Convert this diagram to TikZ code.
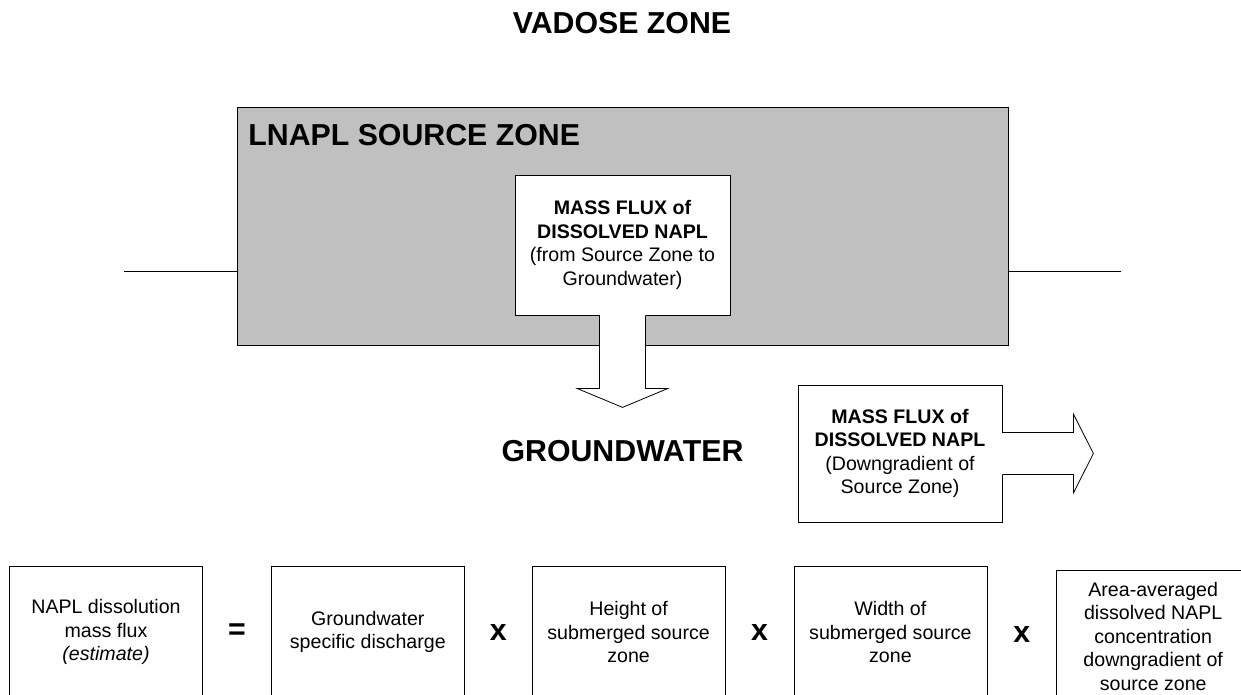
\documentclass[tikz,border=0pt]{standalone}
\usepackage{fontspec}
\setmainfont{Liberation Sans}
\usepackage{tikz}
\usetikzlibrary{positioning,calc}

\definecolor{zonegray}{HTML}{C0C0C0}

\tikzset{
  zonelabel/.style={font=\fontsize{30.3}{35}\selectfont\bfseries, inner sep=0pt},
  fluxbox/.style={draw, fill=white, align=center, inner sep=0pt, font=\fontsize{19.6}{23.5}\selectfont},
  factor/.style={fluxbox, minimum width=193pt, minimum height=132pt}
}

\begin{document}
\begin{tikzpicture}[x=1pt,y=-1pt,line width=0.8pt]

    \useasboundingbox (0,0) rectangle (1241,694);

    \node[zonelabel] (vadose) at (622,23) {VADOSE ZONE};

    \node[draw, fill=zonegray, inner sep=0pt, minimum width=771pt, minimum height=238pt] (source) at (622.5,226) {};
    \node[zonelabel, anchor=west] (lnapl) at (248,135) {LNAPL SOURCE ZONE};

    \coordinate (wtleft) at (124,271);
    \coordinate (wtright) at (1121,271);
    \draw (wtleft) -- (wtleft -| source.west);
    \draw (wtright -| source.east) -- (wtright);

    \node[fluxbox, minimum width=215pt, minimum height=140pt] (fluxdown) at (622.5,245)
      {\textbf{MASS FLUX of}\\ \textbf{DISSOLVED NAPL}\\ (from Source Zone to\\ Groundwater)};
    \fill[white] ($(fluxdown.south)+(-23,-1)$) rectangle ($(fluxdown.south)+(23,73)$);
    \draw ($(fluxdown.south)+(-23,0)$) -- ++(0,73) -- ++(-22.5,0) -- ++(45.5,19)
      -- ++(45.5,-19) -- ++(-22.5,0) -- ++(0,-73);

    \node[zonelabel] (groundwater) at (622.5,451) {GROUNDWATER};

    \node[fluxbox, minimum width=204pt, minimum height=137pt] (fluxright) at (900,453.5)
      {\textbf{MASS FLUX of}\\ \textbf{DISSOLVED NAPL}\\ (Downgradient of\\ Source Zone)};
    \fill[white] ($(fluxright.east)+(-1,-21)$) rectangle ($(fluxright.east)+(71,21)$);
    \draw ($(fluxright.east)+(0,-21)$) -- ++(71,0) -- ++(0,-18.5) -- ++(20,39.5)
      -- ++(-20,39.5) -- ++(0,-18.5) -- ++(-71,0);

    \node[factor] (napl) at (106,632) {NAPL dissolution\\ mass flux\\ \textit{(estimate)}};
    \node[factor, right=68pt of napl] (discharge) {Groundwater\\ specific discharge};
    \node[factor, right=67pt of discharge] (height) {Height of\\ submerged source\\ zone};
    \node[factor, right=68pt of height] (width) {Width of\\ submerged source\\ zone};
    \node[factor, right=69pt of width, yshift=-4pt] (conc)
      {Area-averaged\\ dissolved NAPL\\ concentration\\ downgradient of\\ source zone};

    \node[zonelabel] (equals) at ($(napl.east)!0.5!(discharge.west)$) {=};
    \node[zonelabel] (times1) at ($(discharge.east)!0.5!(height.west)$) {x};
    \node[zonelabel] (times2) at ($(height.east)!0.5!(width.west)$) {x};
    \node[zonelabel] (times3) at ($(width.east)!0.5!(conc.west)$) {x};

\end{tikzpicture}
\end{document}
